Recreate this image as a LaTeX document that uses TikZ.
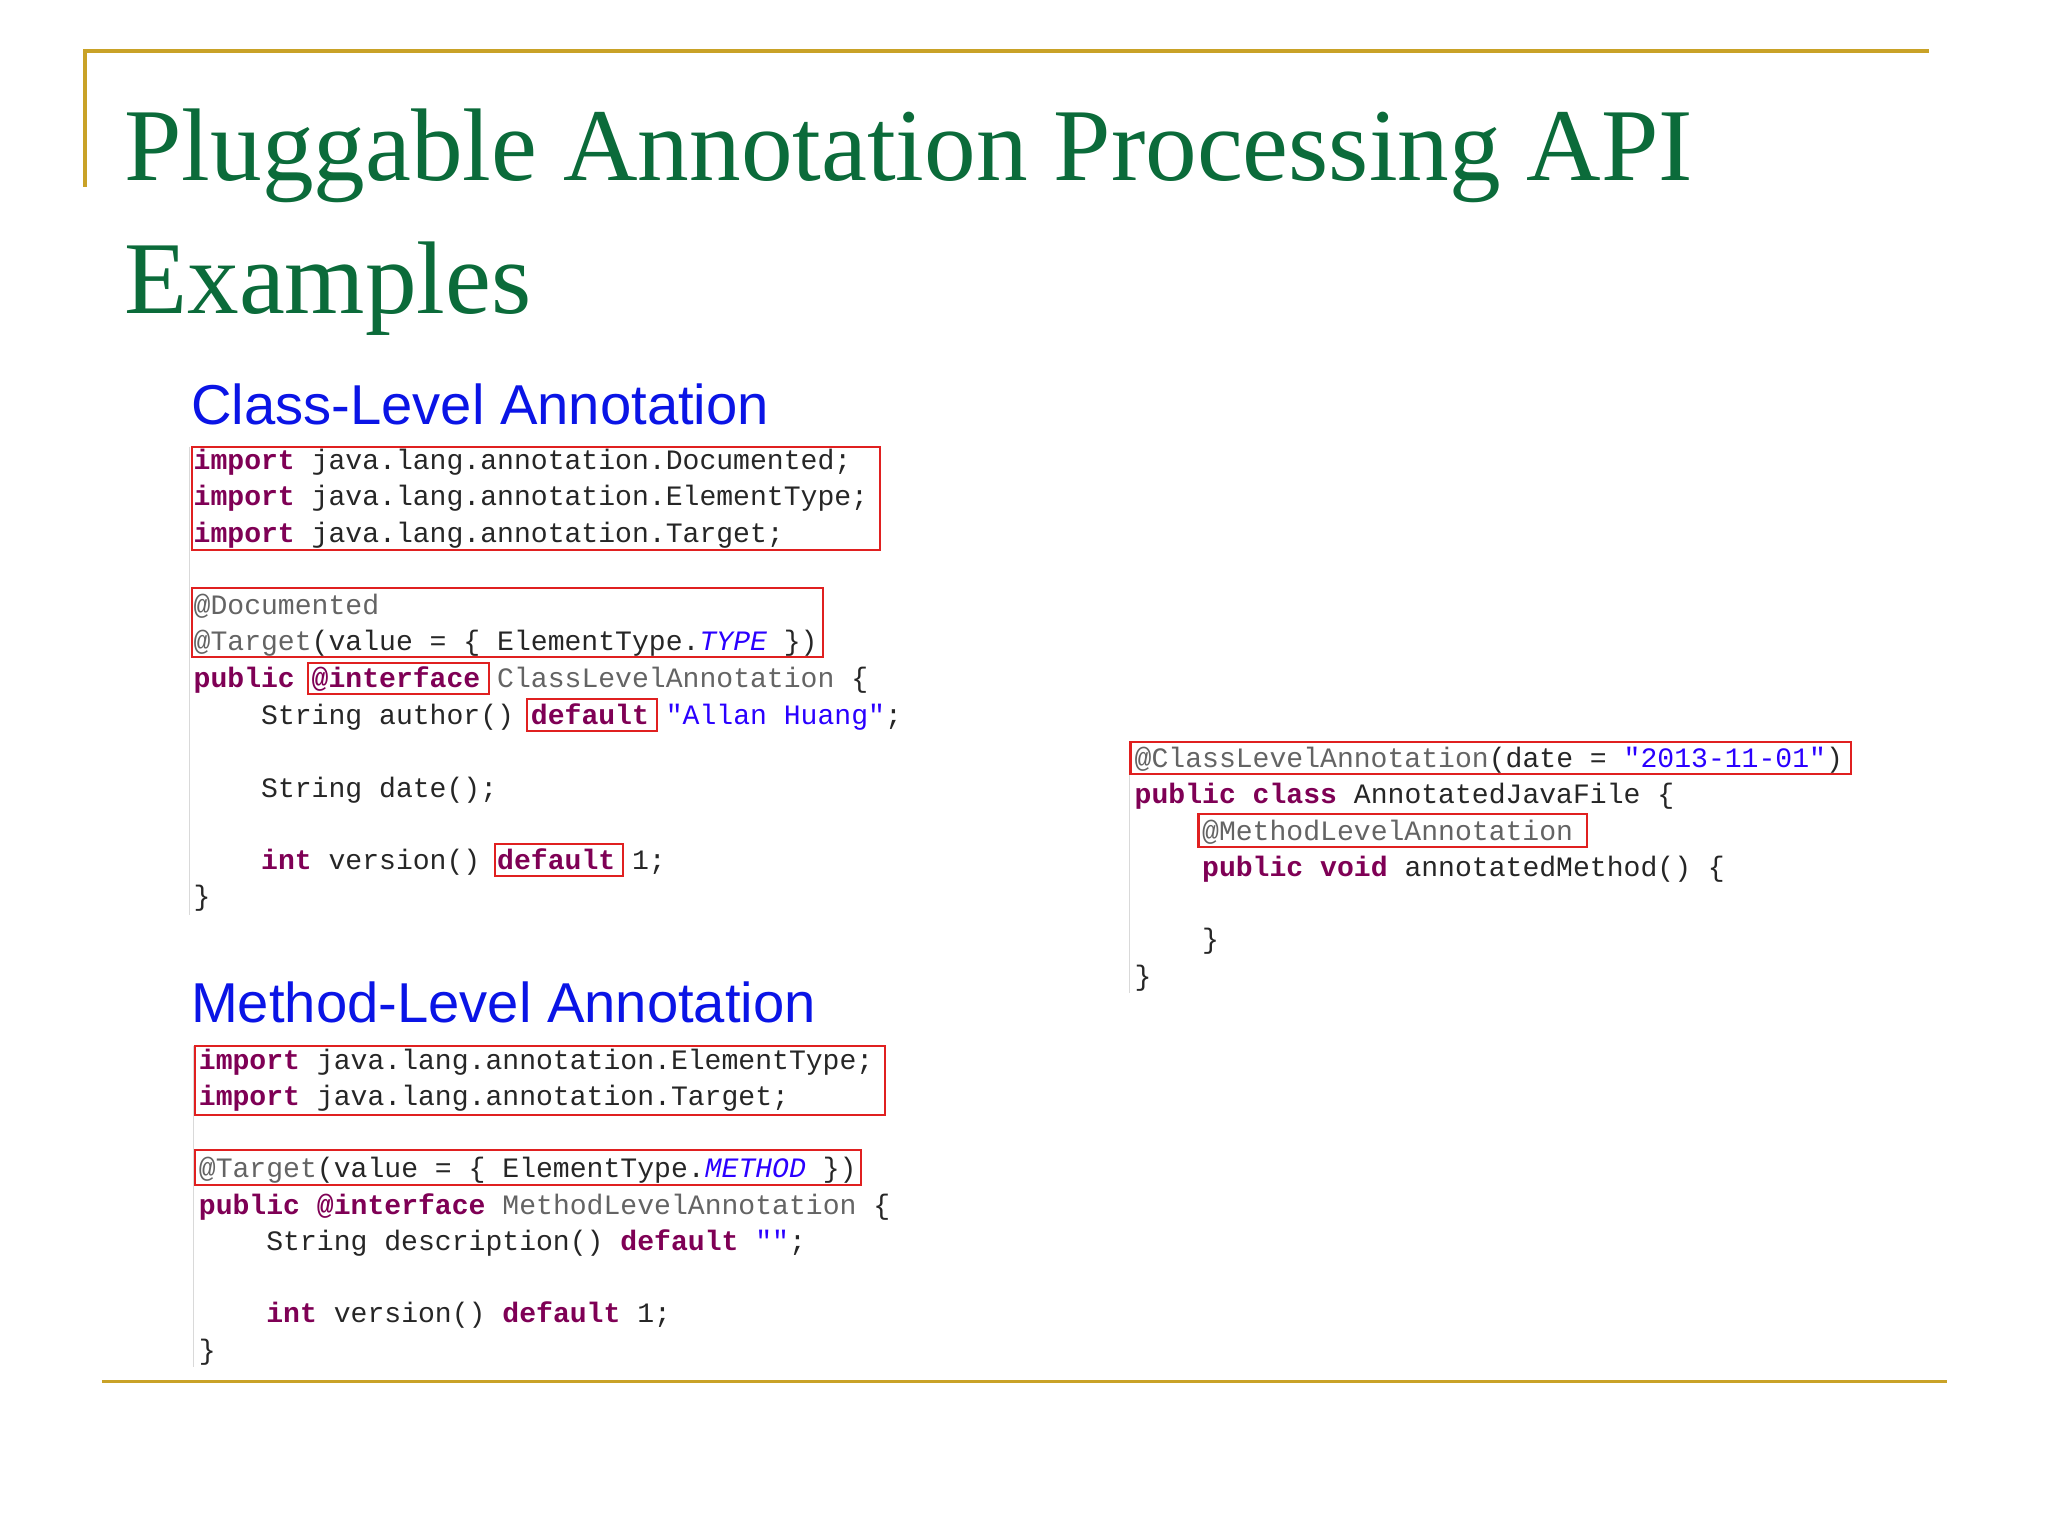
\documentclass[tikz,border=0pt]{standalone}
\usepackage{fontspec}
\setmainfont{Liberation Serif}
\setsansfont{Liberation Sans}
\setmonofont{Liberation Mono}
\definecolor{gold}{HTML}{C9A227}
\definecolor{titlegreen}{HTML}{0B6B3A}
\definecolor{kwc}{HTML}{7F0055}
\definecolor{annc}{HTML}{646464}
\definecolor{strc}{HTML}{2A00FF}
\definecolor{headc}{HTML}{0A14E6}
\definecolor{boxred}{HTML}{E02020}
\newcommand{\kw}[1]{\textcolor{kwc}{\bfseries #1}}
\newcommand{\an}[1]{\textcolor{annc}{#1}}
\newcommand{\st}[1]{\textcolor{strc}{#1}}
\newcommand{\en}[1]{\textcolor{strc}{\itshape #1}}
\tikzset{
  code/.style={anchor=base west, inner sep=0pt, font=\fontsize{21.5}{26}\selectfont\ttfamily, text=black!85},
  head/.style={anchor=base west, inner sep=0pt, font=\fontsize{43}{50}\selectfont\sffamily, text=headc},
  ttl/.style={anchor=base west, inner sep=0pt, font=\fontsize{79}{90}\selectfont, text=titlegreen},
  redbox/.style={draw=boxred, line width=1.6pt},
  rule/.style={draw=gold, line width=3pt},
  edge/.style={draw=black!15, line width=1pt}
}
\begin{document}
\begin{tikzpicture}[x=1pt,y=-1pt]
\useasboundingbox (0,0) rectangle (1567,1175);
\fill[white] (0,0) rectangle (1567,1175);
% frame
\draw[rule] (65,143) -- (65,39) -- (1476,39);
\draw[rule] (78,1057) -- (1490,1057);
% title
\node[ttl] (t1) at (95,138) {Pluggable Annotation Processing API};
\node[ttl] (t2) at (95,240) {Examples};
% headings
\node[head] (h1) at (146,325) {Class-Level Annotation};
\node[head] (h2) at (146,782) {Method-Level Annotation};
% faint edges
\draw[edge] (145,342) -- (145,700);
\draw[edge] (148,800) -- (148,1046);
\draw[edge] (864,568) -- (864,760);
% class-level code
\node[code] (c1) at (148,359) {\kw{import} java.lang.annotation.Documented;};
\node[code] (c2) at (148,387) {\kw{import} java.lang.annotation.ElementType;};
\node[code] (c3) at (148,415) {\kw{import} java.lang.annotation.Target;};
\node[code] (c4) at (148,470) {\an{@Documented}};
\node[code] (c5) at (148,498) {\an{@Target}(value = \{ ElementType.\en{TYPE} \})};
\node[code] (c6) at (148,526) {\kw{public} \kw{@interface} \an{ClassLevelAnnotation} \{};
\node[code] (c7) at (148,554) {\ \ \ \ String author() \kw{default} \st{"Allan Huang"};};
\node[code] (c8) at (148,610) {\ \ \ \ String date();};
\node[code] (c9) at (148,665) {\ \ \ \ \kw{int} version() \kw{default} 1;};
\node[code] (c10) at (148,693) {\}};
% method-level code
\node[code] (m1) at (152,818) {\kw{import} java.lang.annotation.ElementType;};
\node[code] (m2) at (152,846) {\kw{import} java.lang.annotation.Target;};
\node[code] (m3) at (152,901) {\an{@Target}(value = \{ ElementType.\en{METHOD} \})};
\node[code] (m4) at (152,929) {\kw{public} \kw{@interface} \an{MethodLevelAnnotation} \{};
\node[code] (m5) at (152,957) {\ \ \ \ String description() \kw{default} \st{""};};
\node[code] (m6) at (152,1012) {\ \ \ \ \kw{int} version() \kw{default} 1;};
\node[code] (m7) at (152,1040) {\}};
% right code
\node[code] (r1) at (868,587) {\an{@ClassLevelAnnotation}(date = \st{"2013-11-01"})};
\node[code] (r2) at (868,615) {\kw{public} \kw{class} AnnotatedJavaFile \{};
\node[code] (r3) at (868,643) {\ \ \ \ \an{@MethodLevelAnnotation}};
\node[code] (r4) at (868,671) {\ \ \ \ \kw{public} \kw{void} annotatedMethod() \{};
\node[code] (r5) at (868,726) {\ \ \ \ \}};
\node[code] (r6) at (868,754) {\}};
% red boxes
\draw[redbox] (147,342) rectangle (673,421);
\draw[redbox] (147,450) rectangle (630,503);
\draw[redbox] (236,507) rectangle (374,531);
\draw[redbox] (403,535) rectangle (503,559);
\draw[redbox] (379,646) rectangle (477,670);
\draw[redbox] (149,800) rectangle (677,853);
\draw[redbox] (149,880) rectangle (659,907);
\draw[redbox] (865,568) rectangle (1416,592);
\draw[redbox] (917,623) rectangle (1214,648);
\end{tikzpicture}
\end{document}
